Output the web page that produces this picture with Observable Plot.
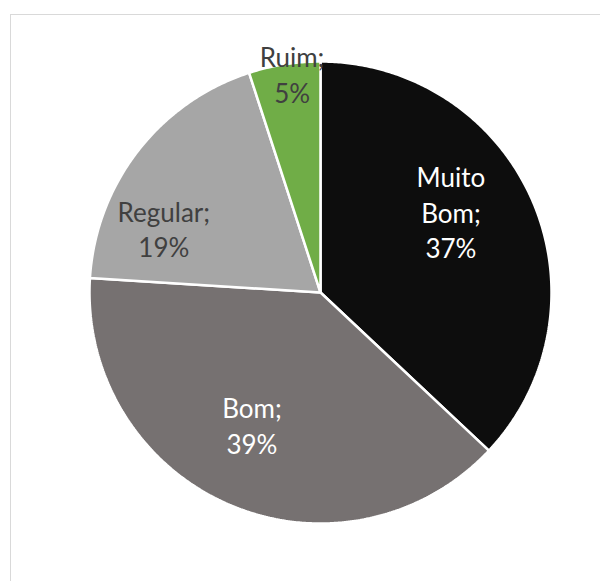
<!DOCTYPE html>
<html>
<head>
<meta charset="utf-8">
<script src="https://cdn.jsdelivr.net/npm/d3@7"></script>
<script src="https://cdn.jsdelivr.net/npm/@observablehq/plot@0.6"></script>
<style>
  html, body { margin: 0; padding: 0; background: #ffffff; }
  #wrap { position: relative; width: 600px; height: 581px; overflow: hidden; }
  #border { position: absolute; left: 10px; top: 14px; width: 620px; height: 620px;
            border: 1px solid #d9d9d9; box-sizing: border-box; }
  #chart { position: absolute; left: 0; top: 0; }
</style>
</head>
<body>
<div id="wrap"><div id="border"></div><div id="chart"></div></div>
<script>
// ---- data ----
const categories = ["Muito Bom", "Bom", "Regular", "Ruim"];
const percents = [37, 39, 19, 5];
const colors = ["#0d0d0d", "#767171", "#a6a6a6", "#70ad47"];
const labelColors = ["#ffffff", "#ffffff", "#404040", "#404040"];

// ---- layout (pixels / unit-radius placements) ----
const W = 600, H = 581, CX = 320, CY = 292, R = 231;
// label placement: angle (deg clockwise from 12 o'clock) and radius fraction
const labelAngle = [58.1, 207.4, 292.3, 352.6];
const labelRadius = [0.665, 0.645, 0.733, 0.955];

const pie = d3.pie().sort(null).value(d => d.value)(
  categories.map((name, i) => ({name, value: percents[i]}))
);

const pts = [];
pie.forEach(a => {
  pts.push({name: a.data.name, x: 0, y: 0});
  const n = Math.max(2, Math.ceil((a.endAngle - a.startAngle) / (Math.PI / 360)));
  for (let k = 0; k <= n; k++) {
    const t = a.startAngle + (a.endAngle - a.startAngle) * k / n;
    pts.push({name: a.data.name, x: Math.sin(t), y: Math.cos(t)});
  }
});

const labels = categories.map((name, i) => {
  const t = labelAngle[i] * Math.PI / 180;
  return {
    name,
    text: `${name.replace(" ", "\n")};\n${percents[i]}%`,
    x: labelRadius[i] * Math.sin(t),
    y: labelRadius[i] * Math.cos(t),
    color: labelColors[i]
  };
});

const chart = Plot.plot({
  width: W,
  height: H,
  margin: 0,
  x: {domain: [-CX / R, (W - CX) / R], range: [0, W], axis: null},
  y: {domain: [-(H - CY) / R, CY / R], range: [H, 0], axis: null},
  color: {domain: categories, range: colors},
  style: {background: "transparent"},
  marks: [
    Plot.line(pts, {
      x: "x", y: "y", z: "name", fill: "name",
      stroke: "white", strokeWidth: 2.5, strokeLinejoin: "miter",
      curve: "linear-closed"
    }),
    Plot.text(labels, {
      x: "x", y: "y", text: "text", fill: d => d.color,
      fontSize: 26, fontFamily: "Lato", lineHeight: 1.36,
      textAnchor: "middle", lineAnchor: "middle"
    })
  ]
});
document.getElementById("chart").appendChild(chart);
</script>
</body>
</html>
